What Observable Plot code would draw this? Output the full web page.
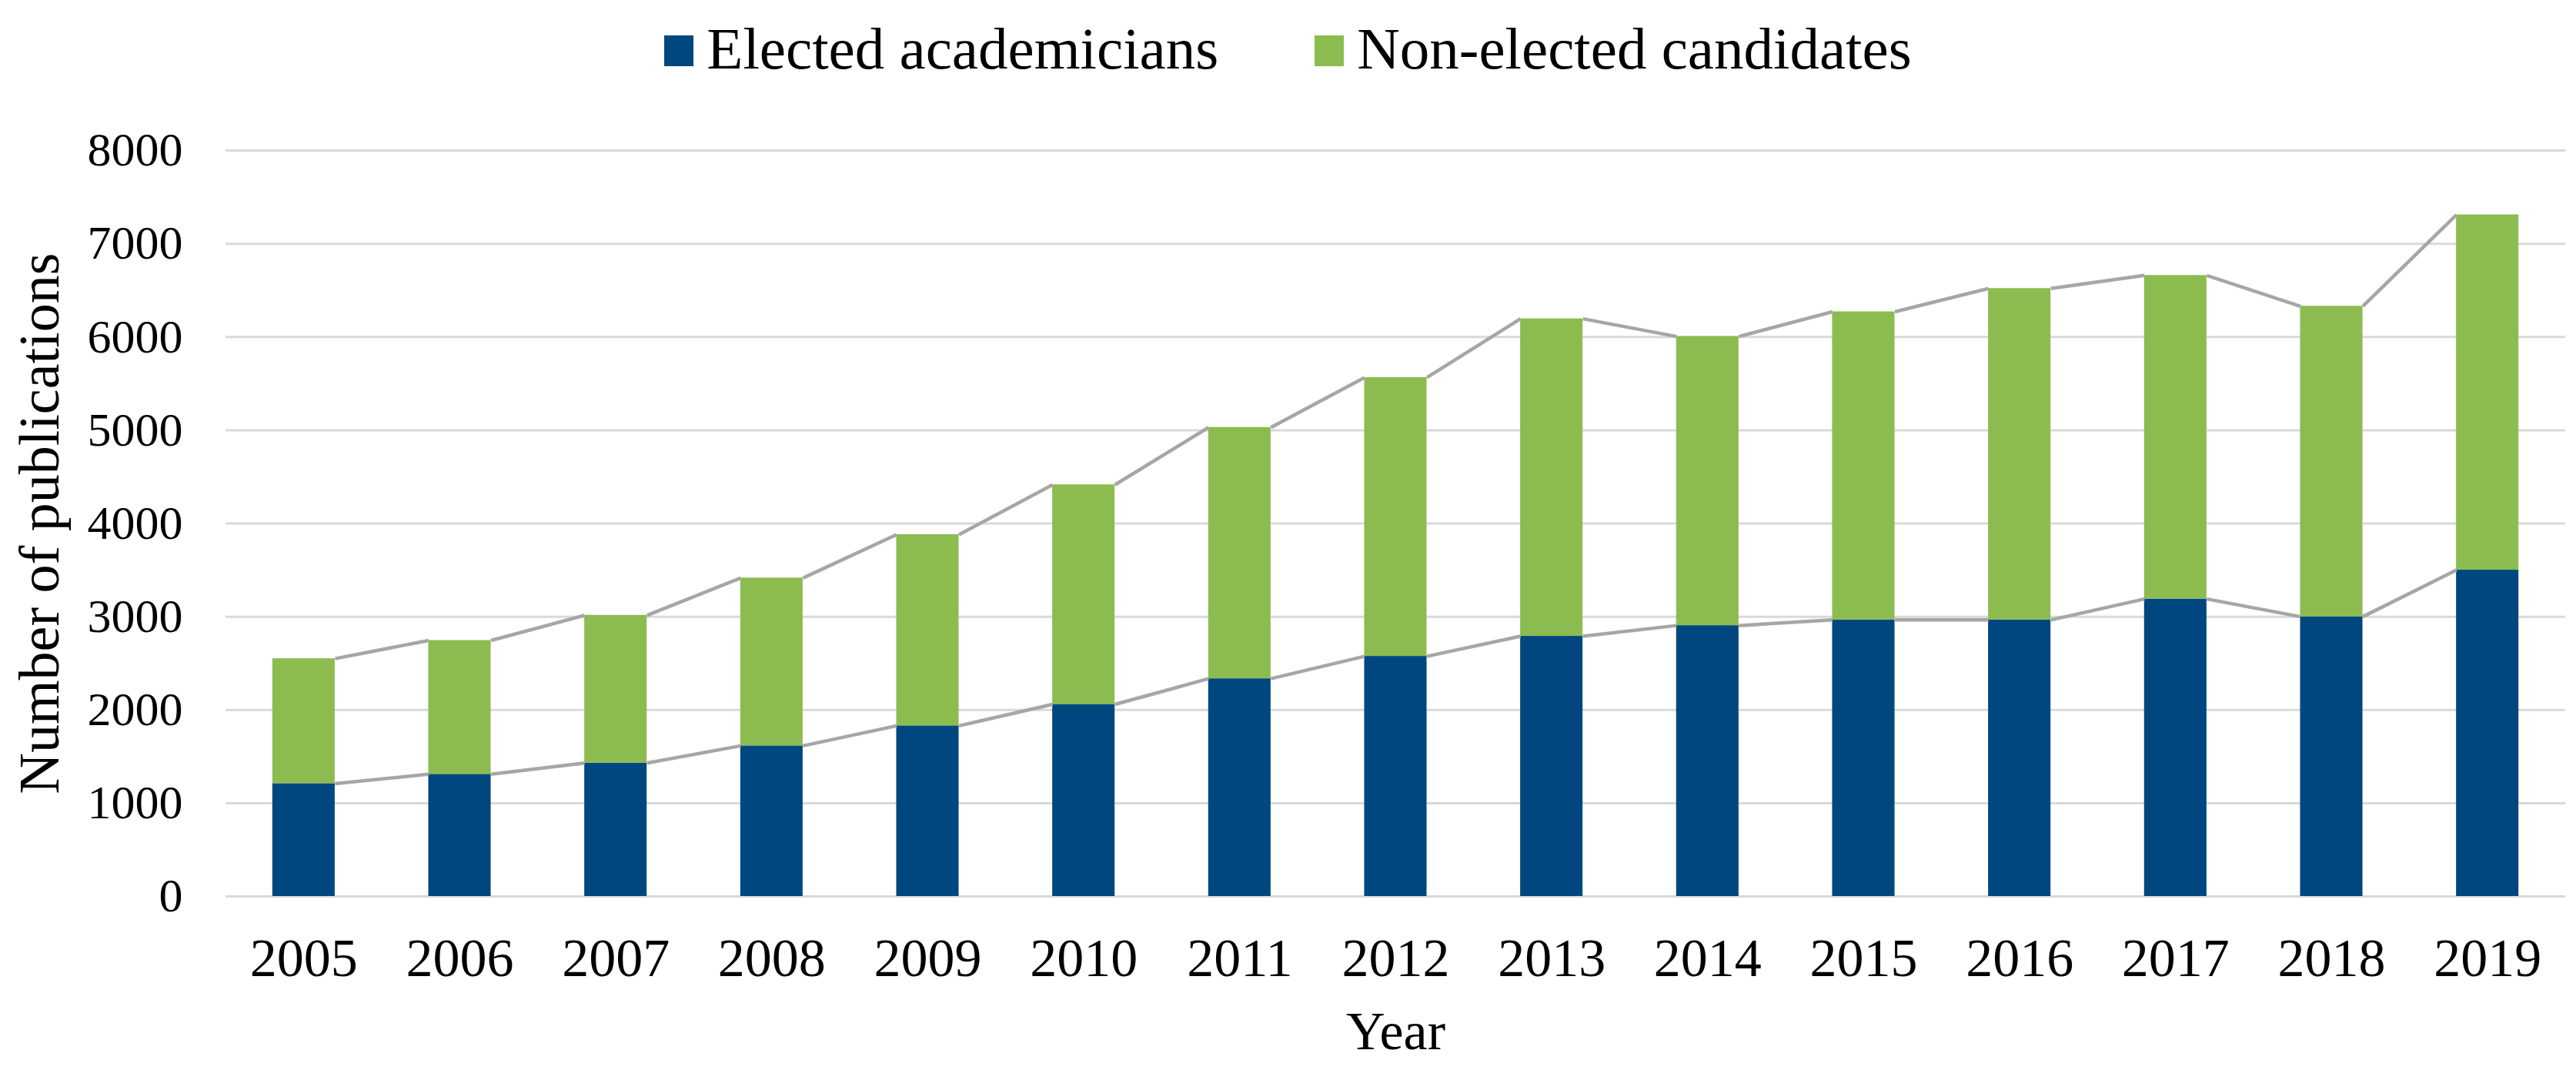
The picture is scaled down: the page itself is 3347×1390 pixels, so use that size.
<!DOCTYPE html>
<html>
<head>
<meta charset="utf-8">
<script src="https://cdn.jsdelivr.net/npm/d3@7"></script>
<script src="https://cdn.jsdelivr.net/npm/@observablehq/plot@0.6"></script>
<style>
  html, body { margin: 0; padding: 0; background: #fff; overflow: hidden; }
  body { width: 3347px; height: 1390px; font-family: "Liberation Serif", "Times New Roman", serif; }
  #legend {
    box-sizing: border-box;
    height: 110px;
    padding-top: 16px;
    display: flex;
    justify-content: center;
    font-size: 77px;
    line-height: 77px;
    color: #000;
  }
  .item { display: flex; align-items: center; }
  .item + .item { margin-left: 125px; }
  .swatch { width: 38px; height: 40px; margin-right: 17px; margin-top: 6px; }
  #chart svg g[aria-label^="x-axis"] text { font-size: 70px; }
  #chart svg g[aria-label^="y-axis"] text { font-size: 62px; }
</style>
</head>
<body>
<div id="legend"></div>
<div id="chart"></div>
<script>
const years = [2005, 2006, 2007, 2008, 2009, 2010, 2011, 2012, 2013, 2014, 2015, 2016, 2017, 2018, 2019];
const elected = [1210, 1310, 1430, 1615, 1830, 2060, 2335, 2575, 2790, 2905, 2965, 2965, 3190, 3000, 3500];
const nonElected = [1340, 1435, 1585, 1800, 2050, 2355, 2695, 2990, 3405, 3100, 3305, 3555, 3470, 3330, 3810];
const yTicks = [0, 1000, 2000, 3000, 4000, 5000, 6000, 7000, 8000];
const seriesNames = ["Elected academicians", "Non-elected candidates"];
const seriesColors = ["#00477f", "#8cbc4f"];

// stacked segments
const segments = years.flatMap((year, i) => [
  {year, series: seriesNames[0], y1: 0, y2: elected[i]},
  {year, series: seriesNames[1], y1: elected[i], y2: elected[i] + nonElected[i]}
]);

// excel-style series lines: from right corner of one bar to left corner of the next
const half = 0.2;
const seriesLines = years.slice(1).flatMap((year, k) => [
  {from: years[k], to: year, a: elected[k], b: elected[k + 1]},
  {from: years[k], to: year, a: elected[k] + nonElected[k], b: elected[k + 1] + nonElected[k + 1]}
]);

const chart = Plot.plot({
  width: 3347,
  height: 1280,
  marginTop: 85,
  marginBottom: 226,
  marginLeft: 293,
  marginRight: 14,
  style: {fontFamily: "Liberation Serif, Times New Roman, serif", background: "#fff", color: "#000", overflow: "visible"},
  x: {
    type: "linear",
    domain: [years[0] - 0.5, years[years.length - 1] + 0.5],
    ticks: years,
    tickFormat: d => String(d),
    tickSize: 0,
    tickPadding: 54,
    label: null
  },
  y: {
    domain: [0, 8000],
    ticks: yTicks,
    tickFormat: d => String(d),
    tickSize: 0,
    tickPadding: 56,
    label: null
  },
  color: {domain: seriesNames, range: seriesColors},
  marks: [
    Plot.ruleY(yTicks, {stroke: "#d9d9d9", strokeWidth: 3}),
    Plot.rect(segments, {
      x1: d => d.year - half,
      x2: d => d.year + half,
      y1: "y1",
      y2: "y2",
      fill: "series"
    }),
    Plot.link(seriesLines, {
      x1: d => d.from + half,
      y1: "a",
      x2: d => d.to - half,
      y2: "b",
      stroke: "#a6a6a6",
      strokeWidth: 4.5
    }),
    Plot.text(["Number of publications"], {
      text: d => d,
      frameAnchor: "left",
      textAnchor: "middle",
      dx: -241,
      rotate: -90,
      fontSize: 74,
      fill: "#000"
    }),
    Plot.text(["Year"], {
      text: d => d,
      frameAnchor: "bottom",
      dy: 198,
      fontSize: 70,
      fill: "#000"
    })
  ]
});

const legend = d3.select("#legend");
seriesNames.forEach((name, i) => {
  const item = legend.append("div").attr("class", "item");
  item.append("div").attr("class", "swatch").style("background", seriesColors[i]);
  item.append("span").text(name);
});

d3.select("#chart").append(() => chart);
</script>
</body>
</html>
